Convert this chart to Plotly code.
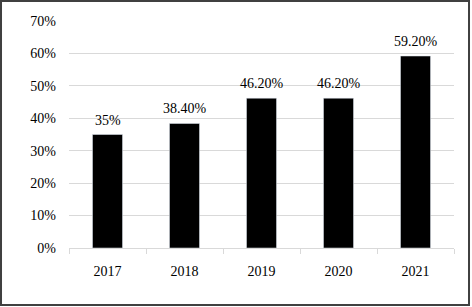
import plotly.graph_objects as go

years = ["2017", "2018", "2019", "2020", "2021"]
shares = [0.35, 0.384, 0.462, 0.462, 0.592]
labels = ["35%", "38.40%", "46.20%", "46.20%", "59.20%"]

font = dict(family="Liberation Serif, Times New Roman, serif", size=14, color="black")

fig = go.Figure(go.Bar(x=years, y=shares, marker_color="black", width=0.39))

# value labels sit a little higher above the bars than plotly's outside text
# (category axis: annotations take the category index)
for i, (val, lab) in enumerate(zip(shares, labels)):
    fig.add_annotation(x=i, y=val, text=lab, showarrow=False,
                       yanchor="bottom", yshift=5, font=font)

fig.update_layout(
    width=472, height=307,
    margin=dict(l=69, r=18, t=21, b=59),
    plot_bgcolor="white", paper_bgcolor="white",
    font=font, showlegend=False,
    shapes=[dict(type="rect", xref="paper", yref="paper",
                 x0=-0.1766, x1=1.039, y0=-0.251, y1=1.088,
                 line=dict(color="#404040", width=2))],
)
fig.update_yaxes(range=[0, 0.7], dtick=0.1, tickformat=".0%",
                 showgrid=True, gridcolor="#d9d9d9", gridwidth=1,
                 zeroline=False, showline=False, ticks="",
                 ticklabelstandoff=12, automargin=False)
fig.update_xaxes(type="category", showline=True, linecolor="#d9d9d9", linewidth=1,
                 ticks="outside", tickson="boundaries", ticklen=5,
                 tickcolor="#d9d9d9", ticklabelstandoff=10, automargin=False)

# drop the browser's default page margin so the figure sits at the corner
fig.write_html("out.html", config={"displayModeBar": False},
               post_script="document.body.style.margin='0';")
